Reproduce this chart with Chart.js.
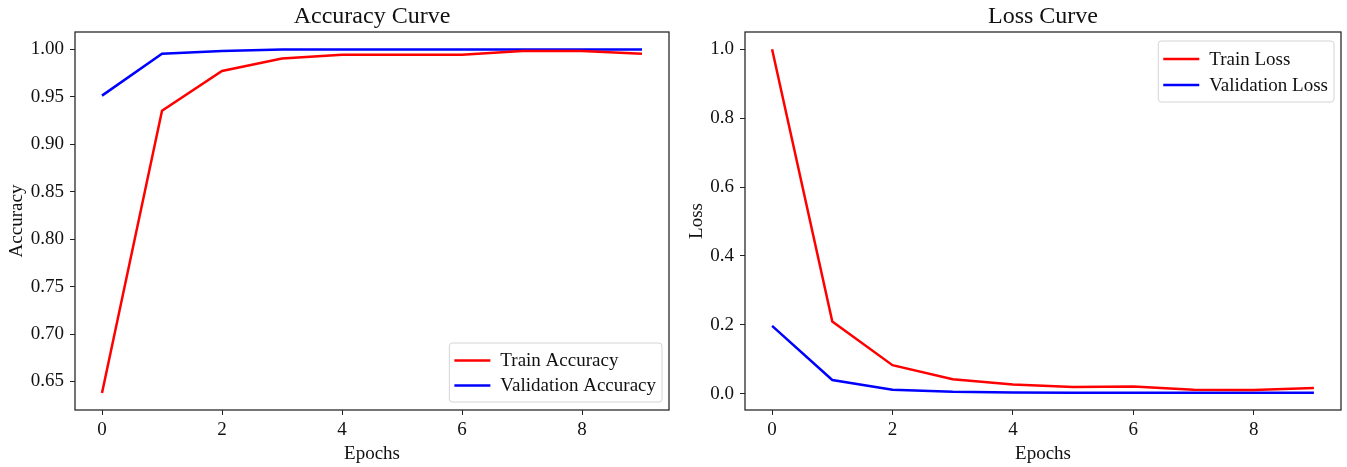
<!DOCTYPE html>
<html>
<head>
<meta charset="utf-8">
<script src="https://cdn.jsdelivr.net/npm/chart.js@4/dist/chart.umd.min.js"></script>
<style>
  html, body { margin: 0; padding: 0; background: #fff; }
  #wrap { position: relative; width: 1347px; height: 467px; overflow: hidden; }
  canvas { position: absolute; top: 0; }
</style>
</head>
<body>
<div id="wrap">
  <canvas id="acc" width="673" height="467" style="left:0px"></canvas>
  <canvas id="loss" width="674" height="467" style="left:673px"></canvas>
</div>
<script>
// ---- data ----
const epochs = [0, 1, 2, 3, 4, 5, 6, 7, 8, 9];
const trainAcc = [0.638, 0.935, 0.977, 0.990, 0.994, 0.994, 0.994, 0.998, 0.998, 0.995];
const valAcc = [0.951, 0.995, 0.998, 0.9995, 0.9995, 0.9995, 0.9995, 0.9995, 0.9995, 0.9995];
const trainLoss = [1.0, 0.210, 0.083, 0.042, 0.027, 0.020, 0.021, 0.012, 0.011, 0.017];
const valLoss = [0.197, 0.040, 0.012, 0.006, 0.004, 0.003, 0.003, 0.003, 0.003, 0.003];
const epochTicks = [0, 2, 4, 6, 8];
const accTicks = [0.65, 0.70, 0.75, 0.80, 0.85, 0.90, 0.95, 1.00];
const lossTicks = [0.0, 0.2, 0.4, 0.6, 0.8, 1.0];

const FONT = "'Liberation Serif', 'Times New Roman', serif";
const TICK_SIZE = 19;

const insideLegend = {
  id: 'insideLegend',
  afterDatasetsDraw(chart, args, o) {
    if (!o || !o.corner) return;
    const ctx = chart.ctx, a = chart.chartArea;
    const items = chart.data.datasets;
    ctx.save();
    ctx.font = o.fontSize + 'px ' + FONT;
    const tw = Math.max(...items.map(d => ctx.measureText(d.label).width));
    const w = o.padL + o.lineLen + o.gap + tw + o.padR;
    const h = o.padT + items.length * o.rowH + o.padB;
    const x = o.corner[1] === 'r' ? a.right - o.inset - w : a.left + o.inset;
    const y = o.corner[0] === 'b' ? a.bottom - o.insetV - h : a.top + o.insetV;
    const r = 3;
    ctx.beginPath();
    ctx.moveTo(x + r, y);
    ctx.lineTo(x + w - r, y); ctx.arcTo(x + w, y, x + w, y + r, r);
    ctx.lineTo(x + w, y + h - r); ctx.arcTo(x + w, y + h, x + w - r, y + h, r);
    ctx.lineTo(x + r, y + h); ctx.arcTo(x, y + h, x, y + h - r, r);
    ctx.lineTo(x, y + r); ctx.arcTo(x, y, x + r, y, r);
    ctx.closePath();
    ctx.fillStyle = 'rgba(255,255,255,0.85)';
    ctx.fill();
    ctx.strokeStyle = '#d4d4d4';
    ctx.lineWidth = 1;
    ctx.stroke();
    items.forEach((d, i) => {
      const cy = y + o.padT + o.rowH * (i + 0.5);
      ctx.beginPath();
      ctx.moveTo(x + o.padL, cy);
      ctx.lineTo(x + o.padL + o.lineLen, cy);
      ctx.strokeStyle = d.borderColor;
      ctx.lineWidth = 2.5;
      ctx.stroke();
      ctx.fillStyle = '#111';
      ctx.textBaseline = 'middle';
      ctx.textAlign = 'left';
      ctx.fillText(d.label, x + o.padL + o.lineLen + o.gap, cy + 1);
    });
    ctx.restore();
  }
};

const frame = {
  id: 'frame',
  afterDraw(chart) {
    const ctx = chart.ctx, a = chart.chartArea;
    ctx.save();
    ctx.strokeStyle = '#2a2a2a';
    ctx.lineWidth = 1.3;
    ctx.strokeRect(a.left, a.top, a.right - a.left, a.bottom - a.top);
    ctx.restore();
  }
};

function pts(ys) { return epochs.map((e, i) => ({ x: e, y: ys[i] })); }

function makeChart(id, cfg) {
  return new Chart(document.getElementById(id), {
    type: 'line',
    data: {
      datasets: [
        { label: cfg.labels[0], data: pts(cfg.series[0]), borderColor: '#ff0000', backgroundColor: '#ff0000', borderWidth: 2.5, pointRadius: 0, tension: 0, fill: false },
        { label: cfg.labels[1], data: pts(cfg.series[1]), borderColor: '#0000ff', backgroundColor: '#0000ff', borderWidth: 2.5, pointRadius: 0, tension: 0, fill: false }
      ]
    },
    plugins: [insideLegend, frame],
    options: {
      responsive: false,
      animation: false,
      devicePixelRatio: 1,
      layout: { padding: { left: 0, right: cfg.padRight, top: 0, bottom: 0 } },
      plugins: {
        legend: { display: false },
        tooltip: { enabled: false },
        title: {
          display: true, text: cfg.title, fullSize: false,
          color: '#111', font: { family: FONT, size: 24, weight: 'normal', lineHeight: 1.2 },
          padding: { top: 2, bottom: 1.2 }
        },
        insideLegend: cfg.legend
      },
      scales: {
        x: {
          type: 'linear', min: -0.45, max: 9.45,
          afterBuildTicks: s => { s.ticks = epochTicks.map(v => ({ value: v })); },
          afterFit: s => { s.height = 57; },
          ticks: { color: '#111', font: { family: FONT, size: TICK_SIZE }, padding: 4, maxRotation: 0, callback: v => String(v) },
          grid: { display: true, drawOnChartArea: false, drawTicks: true, tickLength: 5, color: '#222', lineWidth: 1 },
          border: { display: false },
          title: { display: true, text: 'Epochs', color: '#111', font: { family: FONT, size: TICK_SIZE, lineHeight: 1.2 }, padding: { top: 0, bottom: 2 } }
        },
        y: {
          type: 'linear', min: cfg.yMin, max: cfg.yMax,
          afterBuildTicks: s => { s.ticks = cfg.yTicks.map(v => ({ value: v })); },
          afterFit: s => { s.width = cfg.yWidth; },
          ticks: { color: '#111', font: { family: FONT, size: TICK_SIZE }, padding: 6, callback: v => v.toFixed(cfg.dec) },
          grid: { display: true, drawOnChartArea: false, drawTicks: true, tickLength: 5, color: '#222', lineWidth: 1 },
          border: { display: false },
          title: { display: true, text: cfg.yTitle, color: '#111', font: { family: FONT, size: TICK_SIZE, lineHeight: 1.2 }, padding: { top: cfg.yTitlePad, bottom: 0 } }
        }
      }
    }
  });
}

makeChart('acc', {
  title: 'Accuracy Curve', labels: ['Train Accuracy', 'Validation Accuracy'],
  series: [trainAcc, valAcc], yMin: 0.620, yMax: 1.018, yTicks: accTicks, dec: 2,
  yWidth: 75, padRight: 4, yTitle: 'Accuracy', yTitlePad: 6,
  legend: { corner: 'br', fontSize: 19, padL: 5, lineLen: 36, gap: 10, padR: 6, padT: 5, padB: 4, rowH: 25, inset: 7, insetV: 8 }
});

makeChart('loss', {
  title: 'Loss Curve', labels: ['Train Loss', 'Validation Loss'],
  series: [trainLoss, valLoss], yMin: -0.047, yMax: 1.050, yTicks: lossTicks, dec: 1,
  yWidth: 72, padRight: 6, yTitle: 'Loss', yTitlePad: 13,
  legend: { corner: 'tr', fontSize: 19, padL: 5, lineLen: 36, gap: 10, padR: 6, padT: 5, padB: 4, rowH: 26, inset: 7, insetV: 9 }
});
</script>
</body>
</html>
